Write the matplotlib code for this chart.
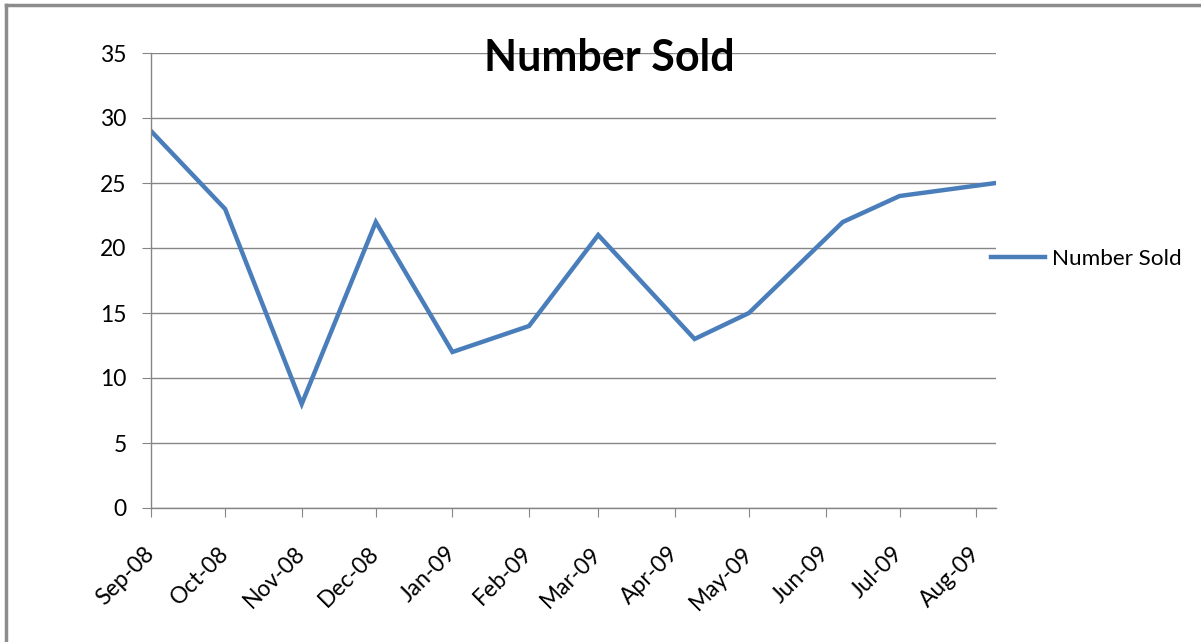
import datetime as dt
import matplotlib
matplotlib.use("Agg")
import matplotlib.pyplot as plt
import matplotlib.dates as mdates
from matplotlib.lines import Line2D

# Data
dates = [dt.date(2008, 9, 1), dt.date(2008, 10, 1), dt.date(2008, 11, 1),
         dt.date(2008, 12, 1), dt.date(2009, 1, 1), dt.date(2009, 2, 1),
         dt.date(2009, 3, 1), dt.date(2009, 4, 9), dt.date(2009, 5, 1),
         dt.date(2009, 6, 8), dt.date(2009, 7, 1), dt.date(2009, 8, 9)]
number_sold = [29, 23, 8, 22, 12, 14, 21, 13, 15, 22, 24, 25]
series_name = "Number Sold"
title = "Number Sold"

plt.rcParams['font.family'] = ['Lato', 'DejaVu Sans']
grey = "#868686"
blue = "#4A7EBB"

fig = plt.figure(figsize=(12.01, 6.42), dpi=100)
ax = fig.add_axes([151/1201, 1-508/642, 845/1201, 455/642])

ax.plot(dates, number_sold, color=blue, linewidth=3.2, label=series_name,
        solid_joinstyle="miter")

ax.set_xlim(dates[0], dates[-1])
ax.set_ylim(0, 35)
ax.set_yticks(range(0, 36, 5))
ax.xaxis.set_major_locator(mdates.MonthLocator())
ax.xaxis.set_major_formatter(mdates.DateFormatter("%b-%y"))
ax.yaxis.grid(True, color=grey, linewidth=1)
ax.set_axisbelow(True)

for s in ["top", "right"]:
    ax.spines[s].set_visible(False)
for s in ["left", "bottom"]:
    ax.spines[s].set_color(grey)
    ax.spines[s].set_linewidth(1)

ax.tick_params(axis="y", length=6.5, color=grey, pad=11, labelsize=16.5)
ax.tick_params(axis="x", length=6.5, color=grey, pad=24, labelsize=16.5)
for lab in ax.get_xticklabels():
    lab.set_rotation(45)
    lab.set_ha("right")
    lab.set_va("center")
    lab.set_rotation_mode("anchor")

fig.text(609/1201, 1-58/642, title, ha="center", va="center",
         fontsize=31, fontweight="bold")

ax.legend(loc="center left", bbox_to_anchor=(980/1201, 1-259/642),
          bbox_transform=fig.transFigure, frameon=False, fontsize=16.2,
          handlelength=2.4, handletextpad=0.3, borderpad=0)

# partial outer border (left and top edges visible)
fig.add_artist(Line2D([6/1201, 6/1201], [0, 1-5/642], transform=fig.transFigure,
                      color="#8c8c8c", linewidth=2.5))
fig.add_artist(Line2D([6/1201, 1], [1-5/642, 1-5/642], transform=fig.transFigure,
                      color="#8c8c8c", linewidth=2.5))

fig.savefig("out.png", dpi=100)
